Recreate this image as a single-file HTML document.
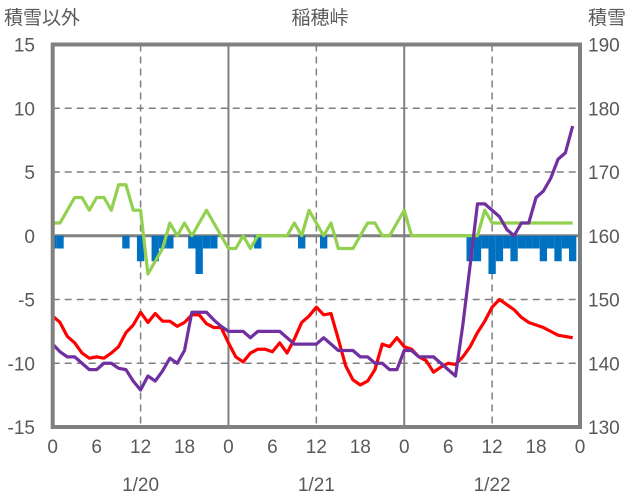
<!DOCTYPE html>
<html><head><meta charset="utf-8"><style>
html,body{margin:0;padding:0;background:#fff;}
svg{display:block;font-family:"Liberation Sans","Noto Sans CJK JP",sans-serif;}
text{fill:#595959;font-size:19px;}
</style></head><body>
<svg id="chart" width="636" height="501" viewBox="0 0 636 501" xmlns="http://www.w3.org/2000/svg">
<text x="320" y="24" text-anchor="middle">稲穂峠</text>
<text x="4" y="24">積雪以外</text>
<text x="588" y="24">積雪</text>
<g id="grid"></g>
<g id="bars"></g>
<g id="lines"></g>
<g id="frame"></g>
<g id="axes"></g>
</svg>
<script>
const hours = [0,6,12,18,0,6,12,18,0,6,12,18,0];
const dates = ["1/20","1/21","1/22"];
const leftTicks = [15,10,5,0,-5,-10,-15];
const rightTicks = [190,180,170,160,150,140,130];
const green = [1,1,2,3,3,2,3,3,2,4,4,2,2,-3,-2,-1,1,0,1,0,1,2,1,0,-1,-1,0,-1,0,0,0,0,0,1,0,2,1,0,1,-1,-1,-1,0,1,1,0,0,1,2,0,0,0,0,0,0,0,0,0,0,2,1,1,1,1,1,1,1,1,1,1,1,1];
const red = [-6.3,-6.8,-7.9,-8.4,-9.2,-9.6,-9.5,-9.6,-9.2,-8.7,-7.6,-7.0,-6.0,-6.8,-6.1,-6.7,-6.7,-7.1,-6.8,-6.2,-6.2,-6.9,-7.2,-7.2,-8.4,-9.5,-9.9,-9.2,-8.9,-8.9,-9.1,-8.4,-9.2,-8.1,-6.8,-6.3,-5.6,-6.2,-6.1,-8.1,-10.2,-11.3,-11.7,-11.4,-10.5,-8.5,-8.7,-8.0,-8.7,-8.9,-9.5,-9.8,-10.7,-10.3,-10.0,-10.1,-9.5,-8.7,-7.6,-6.7,-5.6,-5.0,-5.4,-5.8,-6.4,-6.8,-7.0,-7.2,-7.5,-7.8,-7.9,-8.0];
const purple = [143,141.8,141,141,140,139,139,140,140,139.2,139,137.2,135.8,138,137.2,138.8,140.8,140,142,148,148,148,146.8,145.8,145,145,145,144,145,145,145,145,144,143,143,143,143,144,143,142,142,142,141,141,140,140,139,139,142,142,141,141,141,140,139,138,146,155.4,165,165,164,163,161,160,162,162,166,167,169,172,173,177.2];
const snow = [-1,-1,0,0,0,0,0,0,0,0,-1,0,-2,0,-2,-1,-1,0,0,-1,-3,-1,-1,0,0,0,0,0,-1,0,0,0,0,0,-1,0,0,-1,0,0,0,0,0,0,0,0,0,0,0,0,0,0,0,0,0,0,0,-2,-2,-1,-3,-2,-1,-2,-1,-1,-1,-2,-1,-2,-1,-2];

const NS="http://www.w3.org/2000/svg";
const X0=52.7,X1=580,Y0=44.5,Y1=427;
const xs=h=>X0+h*(X1-X0)/72;
const yl=v=>Y0+(15-v)*(Y1-Y0)/30;
const yr=v=>Y0+(190-v)*(Y1-Y0)/60;
function mk(tag,attrs,parent){const e=document.createElementNS(NS,tag);for(const k in attrs)e.setAttribute(k,attrs[k]);parent.appendChild(e);return e;}
const grid=document.getElementById('grid'),bars=document.getElementById('bars'),lines=document.getElementById('lines'),frame=document.getElementById('frame'),axes=document.getElementById('axes');
[10,5,-5,-10].forEach(v=>{const l=mk('line',{x1:X0,x2:X1,y1:yl(v),y2:yl(v),stroke:'#808080','stroke-width':1.5,'stroke-dasharray':'7,5'},grid);

});
[12,36,60].forEach(h=>{const l=mk('line',{x1:xs(h),x2:xs(h),y1:Y0,y2:Y1,stroke:'#808080','stroke-width':1.5,'stroke-dasharray':'7,5'},grid);

});
[24,48].forEach(h=>{const l=mk('line',{x1:xs(h),x2:xs(h),y1:Y0,y2:Y1,stroke:'#808080','stroke-width':2},grid);

});
const bw=(X1-X0)/72;
snow.forEach((v,i)=>{if(!v)return;let a=Math.max(X0,xs(i)-bw/2),b=Math.min(X1,xs(i)+bw/2);
const r=mk('rect',{x:a,y:yl(0),width:b-a,height:yl(v)-yl(0),fill:'#0070C0'},bars);

});
const zl=mk('line',{x1:X0,x2:X1,y1:yl(0),y2:yl(0),stroke:'#808080','stroke-width':3},grid);


function poly(arr,fy,color,name){const p=mk('polyline',{points:arr.map((v,i)=>xs(i)+','+fy(v)).join(' '),fill:'none',stroke:color,'stroke-width':3.2,'stroke-linejoin':'round'},lines);

}
poly(green,yl,'#92D050','green-series');
poly(red,yl,'#FF0000','red-series');
poly(purple,yr,'#7030A0','snow-depth-series');
const fr=mk('rect',{x:X0,y:Y0,width:X1-X0,height:Y1-Y0,fill:'none',stroke:'#808080','stroke-width':4},frame);


leftTicks.forEach(v=>{const t=mk('text',{x:35,y:yl(v)+7,'text-anchor':'end'},axes);t.textContent=v;

});
rightTicks.forEach(v=>{const t=mk('text',{x:588,y:yr(v)+7},axes);t.textContent=v;

});
hours.forEach((h,i)=>{const t=mk('text',{x:xs(i*6),y:453,'text-anchor':'middle'},axes);t.textContent=h;

});
dates.forEach((d,i)=>{const t=mk('text',{x:xs(12+24*i),y:491,'text-anchor':'middle'},axes);t.textContent=d;

});
</script>
</body></html>
